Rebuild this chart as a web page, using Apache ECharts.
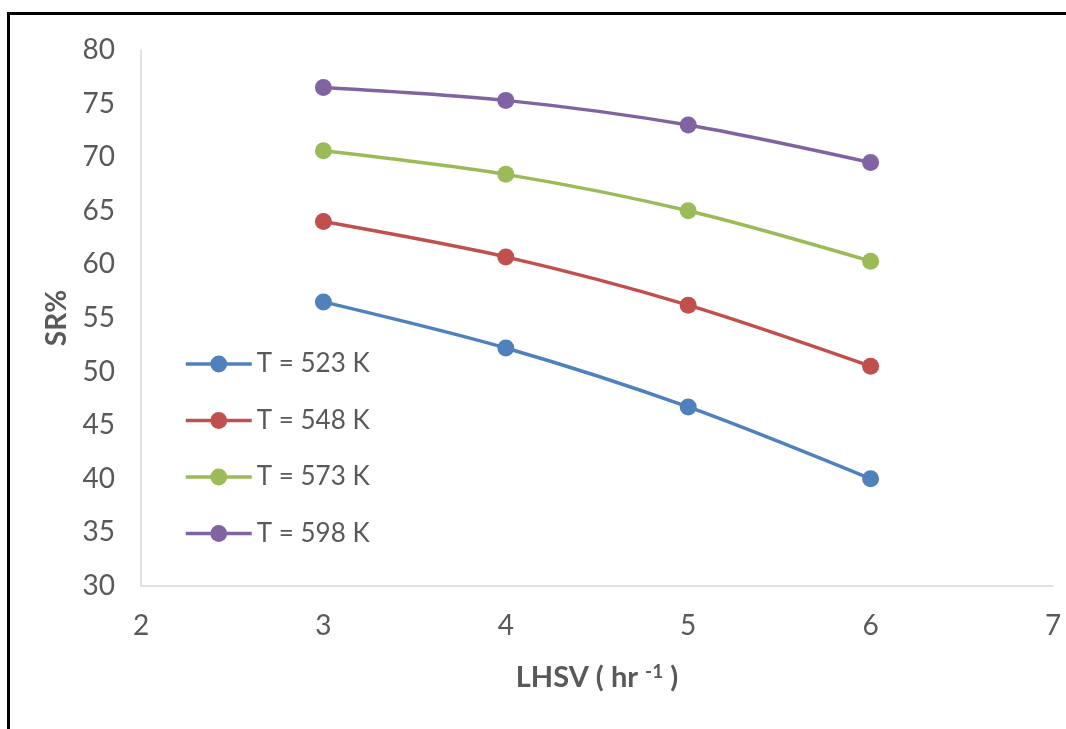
<!DOCTYPE html>
<html>
<head>
<meta charset="utf-8">
<script src="https://cdn.jsdelivr.net/npm/echarts@6/dist/echarts.min.js"></script>
<style>
  html, body { margin: 0; padding: 0; background: #fff; }
  #chart { width: 1066px; height: 729px; }
</style>
</head>
<body>
<div id="chart"></div>
<script>
// LHSV values (hr^-1) on the x axis
const lhsv = [3, 4, 5, 6];
// SR% at each temperature
const sr523 = [56.5, 52.2, 46.7, 40.0];
const sr548 = [64.0, 60.7, 56.2, 50.5];
const sr573 = [70.6, 68.4, 65.0, 60.3];
const sr598 = [76.5, 75.3, 73.0, 69.5];
const seriesNames = ['T = 523 K', 'T = 548 K', 'T = 573 K', 'T = 598 K'];
const seriesValues = [sr523, sr548, sr573, sr598];
const colors = ['#4f81bd', '#c0504d', '#9bbb59', '#8064a2'];

const font = 'Lato, "Open Sans", sans-serif';
const textColor = '#595959';

const chart = echarts.init(document.getElementById('chart'), null, { renderer: 'canvas' });

chart.setOption({
  backgroundColor: '#ffffff',
  animation: false,
  color: colors,
  textStyle: { fontFamily: font },
  grid: { left: 141, right: 13, top: 50, bottom: 143, containLabel: false },
  graphic: [{
    type: 'polyline',
    shape: { points: [[8.5, 729], [8.5, 13.5], [1066, 13.5]] },
    style: { stroke: '#000', lineWidth: 3, fill: null },
    silent: true
  }],
  legend: {
    orient: 'vertical',
    left: 179,
    top: 345,
    itemWidth: 66,
    itemHeight: 21,
    itemGap: 28.5,
    data: seriesNames,
    lineStyle: { width: 3.5 },
    textStyle: { color: textColor, fontSize: 26, lineHeight: 28, fontFamily: font }
  },
  xAxis: {
    type: 'value',
    min: 2, max: 7, interval: 1,
    name: '{b|LHSV ( hr }{s|-1}{b| )}',
    nameLocation: 'middle',
    nameGap: 76,
    nameTextStyle: {
      rich: {
        b: { fontSize: 29, fontWeight: 'bold', color: textColor, fontFamily: font },
        s: { fontSize: 19, fontWeight: 'bold', color: textColor, fontFamily: font, verticalAlign: 'top', padding: [0, 0, 12, 0] }
      }
    },
    axisLine: { show: true, lineStyle: { color: '#d9d9d9', width: 1.5 } },
    axisTick: { show: false },
    splitLine: { show: false },
    axisLabel: { color: textColor, fontSize: 28, margin: 26, fontFamily: font }
  },
  yAxis: {
    type: 'value',
    min: 30, max: 80, interval: 5,
    name: 'SR%',
    nameLocation: 'middle',
    nameGap: 70,
    nameRotate: 90,
    nameTextStyle: { fontSize: 28, fontWeight: 'bold', color: textColor, fontFamily: font },
    axisLine: { show: true, lineStyle: { color: '#d9d9d9', width: 1.5 } },
    axisTick: { show: false },
    splitLine: { show: false },
    axisLabel: { color: textColor, fontSize: 28, margin: 26, fontFamily: font }
  },
  series: seriesNames.map((name, i) => ({
    name: name,
    type: 'line',
    smooth: 0.3,
    symbol: 'circle',
    symbolSize: 17,
    data: lhsv.map((x, j) => [x, seriesValues[i][j]]),
    lineStyle: { width: 3.5, color: colors[i] },
    itemStyle: { color: colors[i] }
  }))
});
</script>
</body>
</html>
